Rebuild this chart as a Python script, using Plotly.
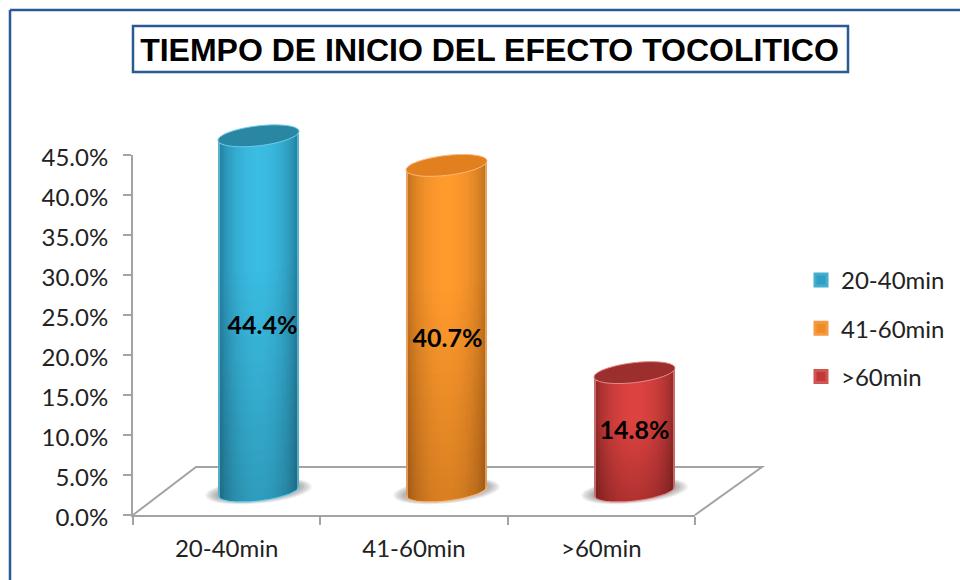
import math
import plotly.graph_objects as go

# ---- data ----
categories = ["20-40min", "41-60min", ">60min"]
values = [44.4, 40.7, 14.8]
title_text = "TIEMPO DE INICIO DEL EFECTO TOCOLITICO"
y_ticks = [0, 5, 10, 15, 20, 25, 30, 35, 40, 45]

# ---- styling ----
shades = [
    dict(top_c="#3abce3", top_e="#1d6f8c", bot_c="#2f9cbc", bot_e="#185a72",
         cap="#2a87a3", rim="#6fcbe6", solid="#2f9fc2"),
    dict(top_c="#ff9a2c", top_e="#b0661a", bot_c="#d97f22", bot_e="#8e4e12",
         cap="#e27f1f", rim="#ffb877", solid="#f08a24"),
    dict(top_c="#dc4240", top_e="#7d2322", bot_c="#b03230", bot_e="#651b1a",
         cap="#9c2e2d", rim="#e58a88", solid="#c23836"),
]
FRAME = "#2b5a92"
AXIS = "#a3a3a3"
TEXT = "#222222"

# pixel geometry of the plot area
L, R, T, B = 133, 762, 115, 515
FRONT_R = 695
PX_PER_UNIT_Y = 8.0
UNIT_X = 188.0
C0 = 258.5            # px centre of first cylinder
FLOOR_UP = 24         # px cylinder axis sits above front axis
BAR_W = 81 / UNIT_X
A, E, TILT = 40.5, 10.0, 4.5   # ellipse half width, half height, shear (px)
N_STRIP, N_SEG = 41, 28
LABEL_NUDGE_PX = [4, 1, 0]


def px(x):
    return (x - L) / (R - L)


def py(y):
    return (B - y) / (B - T)


def mix(c1, c2, t):
    a = [int(c1[i:i + 2], 16) for i in (1, 3, 5)]
    b = [int(c2[i:i + 2], 16) for i in (1, 3, 5)]
    return "#%02x%02x%02x" % tuple(round(p + (q - p) * t) for p, q in zip(a, b))


def ellipse_path(cx, cy, a, b, tilt, t0=0.0, t1=2 * math.pi, closed=True):
    pts = []
    for k in range(49):
        t = t0 + (t1 - t0) * k / 48
        xv = cx + a * math.cos(t) / UNIT_X
        yv = cy + (b * math.sin(t) + tilt * math.cos(t)) / PX_PER_UNIT_Y
        pts.append(f"{xv:.4f},{yv:.4f}")
    return "M" + "L".join(pts) + ("Z" if closed else "")


fig = go.Figure()

# invisible trace that gives the front axis its categories
fig.add_trace(go.Scatter(x=categories, y=values, mode="none", xaxis="x", yaxis="y",
                         showlegend=False, hoverinfo="skip"))

# base bars (also provide the legend)
for i, (cat, v, s) in enumerate(zip(categories, values, shades)):
    fig.add_trace(go.Bar(x=[i], y=[v], width=BAR_W * 0.8, name=cat, xaxis="x2", yaxis="y2",
                         legendgroup=cat,
                         marker=dict(color=s["solid"],
                                     line=dict(color=mix(s["solid"], s["rim"], 0.35), width=3))))

# shaded cylinders: the bar body is split in thin slices
for i, (v, s) in enumerate(zip(values, shades)):
    xs, bases, hs, cols = [], [], [], []
    for j in range(N_STRIP):
        u = (j + 0.5) / N_STRIP * 2 - 1
        root = math.sqrt(1 - u * u)
        low = (-E * root + TILT * u) / PX_PER_UNIT_Y
        high = v + (-E * root + TILT * u) / PX_PER_UNIT_Y
        glow = root ** 1.3
        for k in range(N_SEG):
            f0 = k / N_SEG
            f1 = (k + 1) / N_SEG
            tv = min(1.0, ((f0 + f1) / 2) * 1.5)
            edge = mix(s["bot_e"], s["top_e"], tv)
            cen = mix(s["bot_c"], s["top_c"], tv)
            xs.append(i + u * BAR_W / 2)
            bases.append(low + (high - low) * f0)
            hs.append((high - low) * (f1 - f0))
            col = mix(edge, cen, glow)
            if j in (0, N_STRIP - 1):
                col = mix(col, s["rim"], 0.7)
            cols.append(col)
    fig.add_trace(go.Bar(x=xs, y=hs, base=bases, width=BAR_W / N_STRIP * 1.02,
                         xaxis="x2", yaxis="y2", showlegend=False, hoverinfo="skip",
                         marker=dict(color=cols, line=dict(width=0))))

# data labels
fig.add_trace(go.Scatter(
    x=[i + n / UNIT_X for i, n in enumerate(LABEL_NUDGE_PX)],
    y=[v * 0.444 + 0.67 for v in values],
    text=[f"{v:.1f}%" for v in values], mode="text", textposition="middle center",
    textfont=dict(family="Lato, Open Sans, sans-serif", size=25, color="#000000", weight="bold"),
    xaxis="x2", yaxis="y2", showlegend=False, hoverinfo="skip"))

shapes = []
# frame (top and left only)
shapes.append(dict(type="line", xref="paper", yref="paper", x0=px(10), x1=px(960), y0=py(10), y1=py(10),
                   line=dict(color=FRAME, width=2.5), layer="below"))
shapes.append(dict(type="line", xref="paper", yref="paper", x0=px(10), x1=px(10), y0=py(10), y1=py(580),
                   line=dict(color=FRAME, width=2.5), layer="below"))
# title box
shapes.append(dict(type="rect", xref="paper", yref="paper", x0=px(133), x1=px(848), y0=py(26), y1=py(72),
                   line=dict(color=FRAME, width=2.5), fillcolor="#ffffff", layer="below"))
# 3-D floor outline
floor_pts = [(133, 515), (196, 467), (762, 467), (695, 515)]
shapes.append(dict(type="path", xref="paper", yref="paper",
                   path="M" + "L".join(f"{px(a):.5f},{py(b):.5f}" for a, b in floor_pts),
                   line=dict(color=AXIS, width=2), layer="below"))
# soft shadows under cylinders, rim at the foot and caps on top
for i, (v, s) in enumerate(zip(values, shades)):
    for g in range(6):
        shapes.append(dict(type="path", xref="x2", yref="y2",
                           path=ellipse_path(i, 0, 53 - g * 2.5, 12.5 - g * 0.9, TILT),
                           fillcolor="#707070", opacity=0.13, line=dict(width=0), layer="below"))
    shapes.append(dict(type="path", xref="x2", yref="y2",
                       path=ellipse_path(i, 0, A, E, TILT, math.pi, 2 * math.pi, closed=False),
                       line=dict(color=s["rim"], width=1.2), layer="above"))
    shapes.append(dict(type="path", xref="x2", yref="y2",
                       path=ellipse_path(i, v, A, E, TILT), fillcolor=s["cap"],
                       line=dict(color=s["rim"], width=1.0), layer="above"))

fig.update_layout(
    width=960, height=580,
    autosize=False,
    margin=dict(l=L, r=960 - R, t=T, b=580 - B, autoexpand=False),
    paper_bgcolor="#ffffff", plot_bgcolor="rgba(0,0,0,0)",
    barmode="overlay",
    bargap=0,
    shapes=shapes,
    font=dict(family="Lato, Open Sans, sans-serif", color=TEXT),
    title=dict(text=f"<b>{title_text}</b>", x=489.5 / 960, y=1 - 50 / 580, xanchor="center", yanchor="middle",
               font=dict(family="Liberation Sans, Arial, sans-serif", size=32, color="#000000")),
    legend=dict(x=px(801), y=py(258), xanchor="left", yanchor="top", tracegroupgap=14,
                font=dict(family="Lato, Open Sans, sans-serif", size=24, color=TEXT),
                bgcolor="rgba(0,0,0,0)", itemclick=False, itemdoubleclick=False),
    xaxis=dict(type="category", categoryorder="array", categoryarray=categories,
               domain=[0, (FRONT_R - L) / (R - L)], range=[-0.5, 2.5],
               tickson="boundaries", ticks="outside", ticklen=8, tickwidth=2, tickcolor=AXIS,
               showline=True, linecolor=AXIS, linewidth=2, showgrid=False, zeroline=False,
               ticklabelstandoff=11, tickfont=dict(size=24, color=TEXT)),
    yaxis=dict(domain=[0, 360 / (B - T)], range=[0, 45], tickvals=y_ticks,
               ticktext=[f"{t:.1f}%" for t in y_ticks],
               ticks="outside", ticklen=8, tickwidth=2, tickcolor=AXIS,
               showline=True, linecolor=AXIS, linewidth=2, showgrid=False, zeroline=False,
               ticklabelstandoff=10, ticklabelshift=3, tickfont=dict(size=24, color=TEXT)),
    xaxis2=dict(domain=[0, 1], anchor="y2",
                range=[(L - C0) / UNIT_X, (R - C0) / UNIT_X], visible=False, fixedrange=True),
    yaxis2=dict(domain=[0, 1], anchor="x2",
                range=[-FLOOR_UP / PX_PER_UNIT_Y, (B - T - FLOOR_UP) / PX_PER_UNIT_Y],
                visible=False, fixedrange=True),
)

fig.write_html("out.html", config={"displayModeBar": False},
               post_script="document.body.style.margin='0';")
